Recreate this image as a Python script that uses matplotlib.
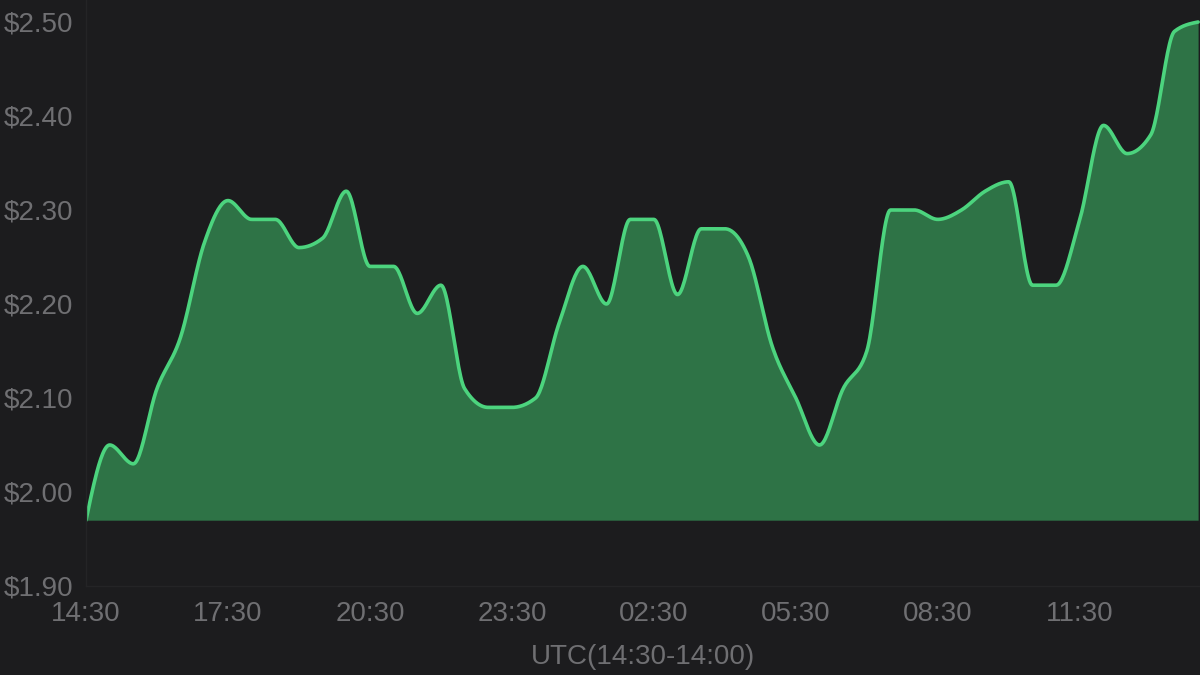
import matplotlib
matplotlib.use('Agg')

import matplotlib.pyplot as plt
import numpy as np

# half-hourly prices, 14:30 -> 14:00 (UTC)
hours = np.arange(0, 24, 0.5)
prices = [1.97, 2.05, 2.03, 2.11, 2.165, 2.265, 2.31, 2.29, 2.29, 2.26,
          2.27, 2.32, 2.24, 2.24, 2.19, 2.22, 2.11, 2.09, 2.09, 2.10,
          2.18, 2.24, 2.20, 2.29, 2.29, 2.21, 2.28, 2.28, 2.25, 2.155,
          2.10, 2.05, 2.11, 2.15, 2.30, 2.30, 2.29, 2.30, 2.32, 2.33,
          2.22, 2.22, 2.29, 2.39, 2.36, 2.38, 2.49, 2.50]

tick_hours = [0, 3, 6, 9, 12, 15, 18, 21]
tick_labels = ['14:30', '17:30', '20:30', '23:30', '02:30', '05:30', '08:30', '11:30']
y_ticks = [1.90, 2.00, 2.10, 2.20, 2.30, 2.40, 2.50]

BG = '#1c1c1e'
TXT = '#6f6f72'
LINE = '#4cd47e'
FILL = '#2e7346'


def monotone(x, y, n=24):
    # monotone cubic (same idea as d3 curveMonotoneX)
    x = np.asarray(x, float)
    y = np.asarray(y, float)
    h = np.diff(x)
    s = np.diff(y) / h
    m = np.zeros_like(y)
    for i in range(1, len(y) - 1):
        p = (s[i - 1] * h[i] + s[i] * h[i - 1]) / (h[i - 1] + h[i])
        m[i] = (np.sign(s[i - 1]) + np.sign(s[i])) * min(abs(s[i - 1]), abs(s[i]), 0.5 * abs(p))
    m[0] = (3 * s[0] - m[1]) / 2
    m[-1] = (3 * s[-1] - m[-2]) / 2
    xs, ys = [], []
    for i in range(len(h)):
        t = np.linspace(0, 1, n, endpoint=False)
        h00 = 2 * t**3 - 3 * t**2 + 1
        h10 = t**3 - 2 * t**2 + t
        h01 = -2 * t**3 + 3 * t**2
        h11 = t**3 - t**2
        xs.append(x[i] + t * h[i])
        ys.append(h00 * y[i] + h10 * h[i] * m[i] + h01 * y[i + 1] + h11 * h[i] * m[i + 1])
    xs.append([x[-1]])
    ys.append([y[-1]])
    return np.concatenate(xs), np.concatenate(ys)


def main():
    plt.rcParams['font.family'] = ['Liberation Sans', 'DejaVu Sans']

    fig = plt.figure(figsize=(12, 6.75), dpi=100, facecolor=BG)
    ax = fig.add_axes([86 / 1200, 89 / 675, 1 - 86 / 1200, 1 - 89 / 675])
    ax.set_facecolor(BG)

    sx, sy = monotone(hours, prices)
    ax.fill_between(sx, sy, min(prices), color=FILL, lw=0)
    ax.plot(sx, sy, color=LINE, lw=2.6, solid_capstyle='round')

    ax.set_xlim(0, 23.54)
    ax.set_ylim(1.90, 2.5234)

    ax.set_xticks(tick_hours)
    ax.set_xticklabels(tick_labels)
    ax.set_yticks(y_ticks)
    ax.set_yticklabels(['$%.2f' % v for v in y_ticks])
    ax.tick_params(length=0, labelsize=20, labelcolor=TXT, pad=9)
    ax.tick_params(axis='x', pad=11)

    ax.set_xlabel('UTC(14:30-14:00)', color=TXT, fontsize=20, labelpad=12)

    for side in ['top', 'right']:
        ax.spines[side].set_visible(False)
    for side in ['left', 'bottom']:
        ax.spines[side].set_color('#242426')
        ax.spines[side].set_linewidth(1)

    fig.savefig('out.png', facecolor=BG)
    plt.close(fig)


if __name__ == '__main__':
    main()
